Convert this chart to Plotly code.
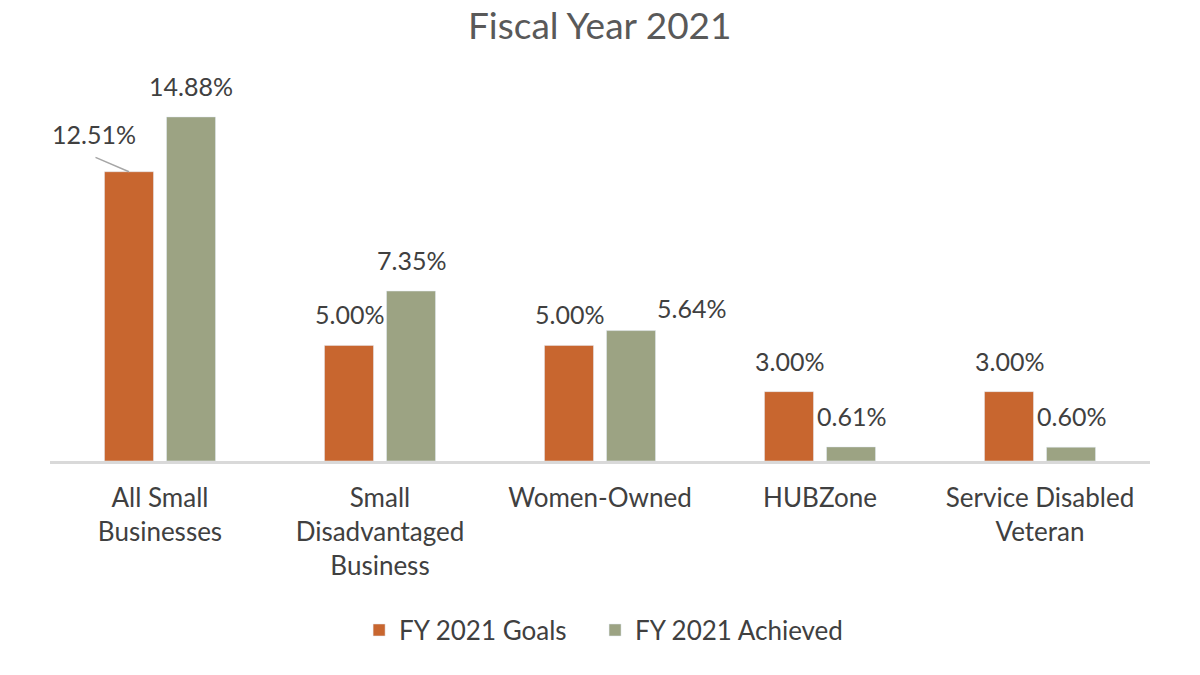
import plotly.graph_objects as go

categories = ["All Small<br>Businesses", "Small<br>Disadvantaged<br>Business", "Women-Owned", "HUBZone", "Service Disabled<br>Veteran"]
goals = [12.51, 5.00, 5.00, 3.00, 3.00]
achieved = [14.88, 7.35, 5.64, 0.61, 0.60]
series_names = ["FY 2021 Goals", "FY 2021 Achieved"]
title_text = "Fiscal Year 2021"

ORANGE = "#C8662F"
GREEN = "#9CA383"
TEXT = "#404040"
FONT = "Lato"

fig = go.Figure()
fig.add_trace(go.Bar(x=categories, y=goals, name=series_names[0], marker_color=ORANGE,
                     legend="legend", showlegend=True))
fig.add_trace(go.Bar(x=categories, y=achieved, name=series_names[1], marker_color=GREEN,
                     legend="legend2", showlegend=True))

annotations = []
OFF = 31
for i, cat in enumerate(categories):
    for vals, sx in ((goals, -OFF), (achieved, OFF)):
        v = vals[i]
        txt = f"{v:.2f}%"
        ann = dict(x=cat, y=v, xref="x", yref="y", text=txt, showarrow=False,
                   xshift=sx, yshift=31, yanchor="middle", xanchor="center",
                   font=dict(family=FONT, size=25, color=TEXT))
        if i == 0 and sx < 0:
            ann.update(xshift=sx - 35, yshift=38)
            # leader line from label to bar top
            annotations.append(dict(x=cat, y=v, xref="x", yref="y", text=" ",
                                    showarrow=True, arrowhead=0, arrowwidth=1.5,
                                    arrowcolor="#A6A6A6", ax=-35, ay=-15,
                                    xshift=sx, standoff=0, startstandoff=0,
                                    font=dict(size=1)))
        if i == 2 and sx > 0:
            ann.update(xshift=sx + 60, yshift=23)
        annotations.append(ann)

# chart title
annotations.append(dict(text=title_text, xref="paper", yref="paper", x=0.5, y=1.0,
                        xanchor="center", yanchor="bottom", yshift=42, showarrow=False,
                        font=dict(family=FONT, size=37, color="#595959")))

legend_common = dict(orientation="h", y=-0.457, yanchor="middle", xanchor="left",
                     bgcolor="rgba(0,0,0,0)", font=dict(family=FONT, size=26, color=TEXT))

fig.update_layout(
    width=1200, height=675, showlegend=True,
    paper_bgcolor="white", plot_bgcolor="white",
    margin=dict(l=50, r=50, t=91, b=214),
    barmode="group", bargap=0.436, bargroupgap=0.21,
    font=dict(family=FONT, size=26, color=TEXT),
    xaxis=dict(showline=True, linecolor="#D9D9D9", linewidth=3, ticks="",
               ticklabelstandoff=12,
               tickfont=dict(family=FONT, size=26, color=TEXT)),
    yaxis=dict(range=[0, 16], visible=False, showgrid=False, zeroline=False),
    legend=dict(x=0.281, **legend_common),
    legend2=dict(x=0.4955, **legend_common),
    annotations=annotations,
)

fig.write_html("out.html", config={"displayModeBar": False},
               post_script="document.body.style.margin='0';")
